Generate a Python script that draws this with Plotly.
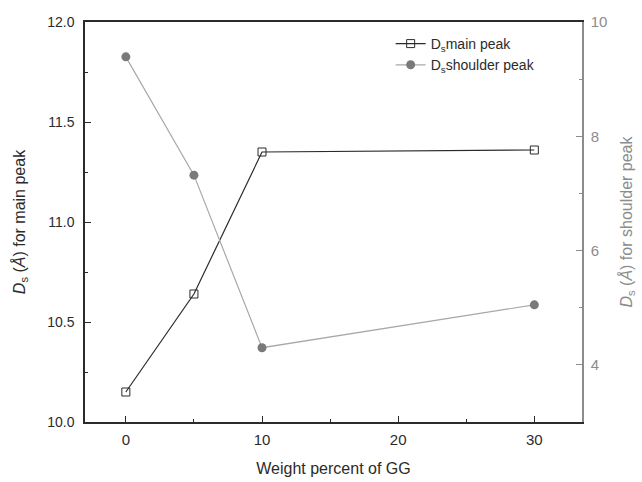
import plotly.graph_objects as go

# Weight percent of GG in the samples
weight_pct = [0, 5, 10, 30]
# d-spacing of the main peak (left axis)
ds_main = [10.15, 10.64, 11.35, 11.36]
# d-spacing of the shoulder peak (right axis)
ds_shoulder = [9.39, 7.32, 4.30, 5.05]

dark = "#2b2b2b"
grey = "#8c8c8c"
font = "Liberation Sans, Arial, sans-serif"

fig = go.Figure()
fig.add_trace(go.Scatter(
    x=weight_pct, y=ds_main, name="D<sub>s</sub>main peak",
    mode="lines+markers",
    line=dict(color=dark, width=1.2),
    marker=dict(symbol="square-open", size=8, color=dark, line=dict(width=1)),
))
fig.add_trace(go.Scatter(
    x=weight_pct, y=ds_shoulder, name="D<sub>s</sub>shoulder peak",
    mode="lines+markers", yaxis="y2",
    line=dict(color="#a8a8a8", width=1.2),
    marker=dict(symbol="circle", size=9, color="#7a7a7a"),
))

fig.update_layout(
    width=642, height=482,
    margin=dict(l=85, r=60, t=22, b=60),
    paper_bgcolor="white", plot_bgcolor="white",
    font=dict(family=font, size=14, color=dark),
    showlegend=True,
    legend=dict(x=0.615, y=0.985, xanchor="left", yanchor="top",
                bgcolor="rgba(0,0,0,0)", font=dict(size=14, color=dark),
                tracegroupgap=0, itemwidth=30),
    xaxis=dict(
        range=[-3, 33.5], tickvals=[0, 10, 20, 30], automargin=False,
        ticks="inside", ticklen=6, tickwidth=1.2, tickcolor=dark,
        minor=dict(dtick=5, ticks="inside", ticklen=3, tickcolor=dark),
        showline=True, linecolor=dark, linewidth=1.5, mirror=True,
        showgrid=False, zeroline=False,
        title=dict(text="Weight percent of GG", font=dict(size=16), standoff=16),
        tickfont=dict(size=15), ticklabelstandoff=3,
    ),
    yaxis=dict(
        range=[10.0, 12.0], dtick=0.5, tickformat=".1f", automargin=False,
        ticks="inside", ticklen=6, tickwidth=1.2, tickcolor=dark,
        minor=dict(dtick=0.25, ticks="inside", ticklen=3, tickcolor=dark),
        showline=True, linecolor=dark, linewidth=1.5, mirror=True,
        showgrid=False, zeroline=False,
        title=dict(text="<i>D</i><sub>s</sub> (<i>Å</i>) for main peak",
                   font=dict(size=16), standoff=18),
        tickfont=dict(size=14), ticklabelstandoff=6,
    ),
    yaxis2=dict(
        overlaying="y", side="right", range=[3, 10], tickvals=[4, 6, 8, 10],
        automargin=False,
        ticks="inside", ticklen=6, tickwidth=1.2, tickcolor=grey,
        minor=dict(dtick=1, ticks="inside", ticklen=3, tickcolor=grey),
        showline=True, linecolor=grey, linewidth=1.5,
        showgrid=False, zeroline=False,
        tickfont=dict(size=15, color=grey), ticklabelstandoff=4,
        title=dict(text="<i>D</i><sub>s</sub> (<i>Å</i>) for shoulder peak",
                   font=dict(size=16, color=grey), standoff=14),
    ),
)

fig.write_html("out.html")
